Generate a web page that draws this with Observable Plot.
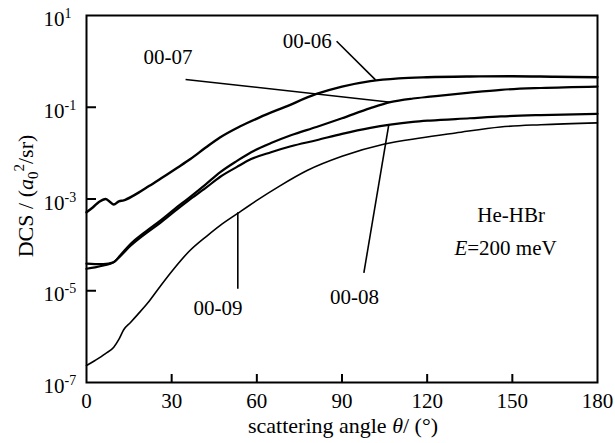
<!DOCTYPE html>
<html><head><meta charset="utf-8">
<script src="https://cdn.jsdelivr.net/npm/d3@7"></script>
<script src="https://cdn.jsdelivr.net/npm/@observablehq/plot@0.6"></script>
<style>
body{margin:0;background:#fff;}
#chart{width:615px;height:443px;}
#chart svg text, #chart svg tspan { font-family: "Times New Roman", Tinos, serif !important; }
</style>
</head><body><div id="chart"></div>
<script>
// ---- data (scattering angle in degrees, DCS in a0^2/sr) ----
const theta06 = [0, 2.3, 4.5, 6.7, 8.2, 9.6, 11.4, 13.1, 16.7, 22, 27, 32, 36.6, 42, 47, 54, 61, 70, 81, 90, 100, 110, 120, 135, 150, 165, 180];
const dcs06   = [5.13e-4, 6.61e-4, 8.71e-4, 1.00e-3, 8.71e-4, 7.59e-4, 8.91e-4, 9.33e-4, 1.20e-3, 1.91e-3, 3.02e-3, 4.79e-3, 7.41e-3, 1.32e-2, 2.19e-2, 3.80e-2, 6.03e-2, 0.102, 0.195, 0.282, 0.372, 0.427, 0.452, 0.468, 0.473, 0.462, 0.452];
const theta07 = [0, 3, 6, 9.5, 12, 15.5, 20, 26, 31, 36, 42, 47, 53, 58, 65, 72, 81, 90, 100, 107, 115, 121, 135, 146, 160, 180];
const dcs07   = [3.89e-5, 3.80e-5, 3.80e-5, 4.17e-5, 6.03e-5, 1.047e-4, 1.778e-4, 3.39e-4, 6.03e-4, 1.047e-3, 2.09e-3, 3.80e-3, 6.76e-3, 1.047e-2, 1.66e-2, 2.45e-2, 3.72e-2, 5.75e-2, 9.55e-2, 0.129, 0.155, 0.170, 0.209, 0.240, 0.263, 0.283];
const theta08 = [0, 3, 6, 9.5, 12, 15.5, 20, 26, 31, 36, 42, 47, 53, 58, 65, 72, 81, 90, 100, 107, 115, 121, 135, 146, 160, 180];
const dcs08   = [3.02e-5, 3.24e-5, 3.55e-5, 4.17e-5, 5.75e-5, 9.55e-5, 1.62e-4, 3.02e-4, 5.37e-4, 9.33e-4, 1.74e-3, 3.02e-3, 5.01e-3, 7.41e-3, 1.047e-2, 1.41e-2, 1.91e-2, 2.63e-2, 3.55e-2, 4.17e-2, 4.79e-2, 5.13e-2, 5.75e-2, 6.31e-2, 6.76e-2, 7.19e-2];
const theta09 = [0, 3, 6.7, 9.6, 11.5, 13.1, 15.5, 18, 21.4, 26, 30.8, 36, 42.5, 47, 53.1, 60, 68, 77.7, 90, 105, 117.6, 130, 145.8, 160, 180];
const dcs09   = [2.34e-7, 3.02e-7, 4.27e-7, 5.89e-7, 8.91e-7, 1.41e-6, 2.04e-6, 3.02e-6, 5.25e-6, 1.26e-5, 3.02e-5, 7.08e-5, 1.58e-4, 2.63e-4, 4.79e-4, 9.33e-4, 1.91e-3, 4.17e-3, 8.51e-3, 1.58e-2, 2.14e-2, 2.75e-2, 3.72e-2, 4.17e-2, 4.57e-2];

const xTicks = [0, 30, 60, 90, 120, 150, 180];
const xInnerTicks = [30, 60, 90, 120, 150];
const yTicks = [1e1, 1e-1, 1e-3, 1e-5, 1e-7];
const yTickExponents = ["1", "-1", "-3", "-5", "-7"];
const yInnerTicks = [1e-1, 1e-3, 1e-5];

// annotation labels (centres) and leader lines, in data coordinates
const labelText  = ["00-06", "00-07", "00-08", "00-09", "He-HBr", "E=200 meV"];
const labelTheta = [77.8, 28.7, 94.4, 46.3, 149.6, 147.6];
const labelDcs   = [2.75, 1.23, 7.13e-6, 4.10e-6, 4.37e-4, 8.32e-5];

const leaderTheta1 = [88.1, 34.9, 97.7, 53.3];
const leaderDcs1   = [2.75, 0.403, 2.46e-5, 1.10e-5];
const leaderTheta2 = [101.8, 107.1, 106.5, 53.3];
const leaderDcs2   = [0.396, 0.129, 0.0421, 5.15e-4];

// ---- tables built from the arrays ----
const toRows = (t, v) => t.map((x, i) => ({theta: x, dcs: v[i]}));
const rows06 = toRows(theta06, dcs06);
const rows07 = toRows(theta07, dcs07);
const rows08 = toRows(theta08, dcs08);
const rows09 = toRows(theta09, dcs09);
const labels = labelText.map((t, i) => ({text: t, theta: labelTheta[i], dcs: labelDcs[i]}));
const leaders = leaderTheta1.map((t, i) => ({x1: t, y1: leaderDcs1[i], x2: leaderTheta2[i], y2: leaderDcs2[i]}));

const W = 615, H = 443;
const mL = 86, mR = 18, mT = 15, mB = 61;
const FONT = "'Times New Roman', Tinos, serif";
const FS = 21;
const TFS = 22;

const lineOpts = {x: "theta", y: "dcs", curve: "monotone-x", stroke: "#000", strokeLinejoin: "round", strokeLinecap: "round"};

const chart = Plot.plot({
  width: W, height: H,
  marginLeft: mL, marginRight: mR, marginTop: mT, marginBottom: mB,
  style: {fontFamily: FONT, fontSize: FS + "px", background: "#fff", color: "#000"},
  x: {domain: [0, 180], label: null},
  y: {type: "log", domain: [1e-7, 1e1], label: null},
  marks: [
    Plot.line(rows09, {...lineOpts, strokeWidth: 1.6}),
    Plot.line(rows08, {...lineOpts, strokeWidth: 2.2}),
    Plot.line(rows07, {...lineOpts, strokeWidth: 2.2}),
    Plot.line(rows06, {...lineOpts, strokeWidth: 2.4}),
    Plot.link(leaders, {x1: "x1", y1: "y1", x2: "x2", y2: "y2", stroke: "#000", strokeWidth: 1.6}),
    Plot.text(labels, {x: "theta", y: "dcs", text: "text", textAnchor: "middle", fontSize: FS, fill: "#000"}),
    Plot.tickX(xInnerTicks, {x: d => d, stroke: "#000", strokeWidth: 2, insetTop: H - mT - mB - 8}),
    Plot.tickY(yInnerTicks, {y: d => d, stroke: "#000", strokeWidth: 2, insetRight: W - mL - mR - 10}),
    Plot.axisX({ticks: xTicks, tickSize: 0, tickPadding: 11, fontSize: FS, label: null, tickFormat: d => String(d)}),
    Plot.axisY({ticks: yTicks, tickSize: 0, tickPadding: 43, textAnchor: "start", dy: 4, fontSize: FS, label: null,
      tickFormat: d => yTickExponents[yTicks.indexOf(d)]}),
    Plot.frame({stroke: "#000", strokeWidth: 2})
  ]
});

document.getElementById("chart").appendChild(chart);
const svg = d3.select(chart);

// superscript tick labels: 10^n
svg.selectAll('g[aria-label="y-axis tick label"] text').each(function() {
  const t = d3.select(this);
  const exp = t.text();
  t.text(null);
  t.append("tspan").text("10");
  t.append("tspan").attr("font-size", 14).attr("dy", "-8").text(exp);
});

// italic E in the energy label
svg.selectAll('g[aria-label="text"] text').each(function() {
  const t = d3.select(this);
  if (t.text() === "E=200 meV") {
    t.text(null);
    t.append("tspan").attr("font-style", "italic").text("E");
    t.append("tspan").text("=200 meV");
  }
});

// x axis title
const xt = svg.append("text")
  .attr("x", 343).attr("y", 433)
  .attr("text-anchor", "middle")
  .attr("font-size", TFS).attr("font-family", FONT).attr("fill", "#000");
xt.append("tspan").text("scattering angle ");
xt.append("tspan").attr("font-style", "italic").text("θ");
xt.append("tspan").text("/ (°)");

// y axis title
const yt = svg.append("text")
  .attr("transform", "translate(33,196) rotate(-90)")
  .attr("text-anchor", "middle")
  .attr("font-size", TFS).attr("font-family", FONT).attr("fill", "#000");
yt.append("tspan").text("DCS / (");
yt.append("tspan").attr("font-style", "italic").text("a");
yt.append("tspan").attr("font-size", 15).attr("dy", "5").text("0");
yt.append("tspan").attr("font-size", 15).attr("dy", "-14").text("2");
yt.append("tspan").attr("dy", "9").text("/sr)");
</script>
</body></html>
